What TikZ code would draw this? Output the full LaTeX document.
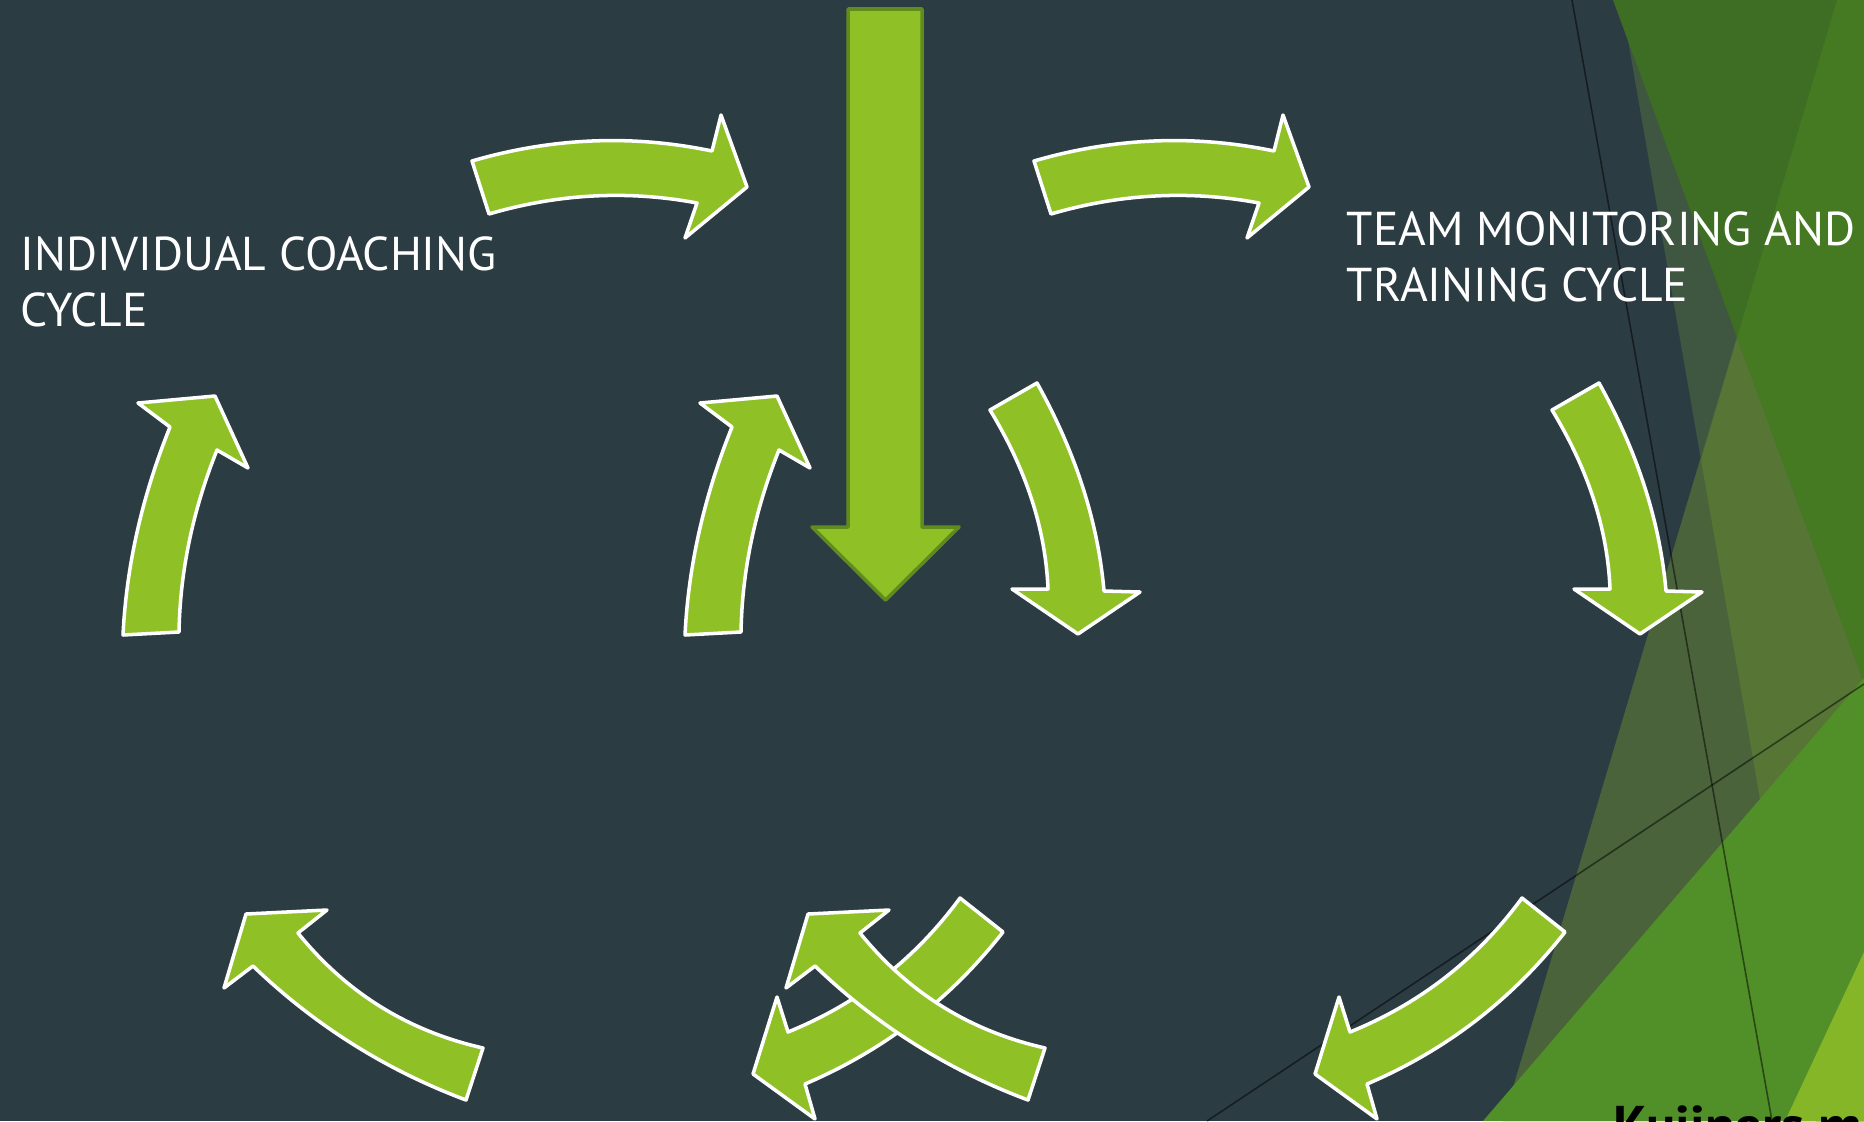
\documentclass[tikz,border=0pt]{standalone}
\usepackage{fontspec}
\setmainfont{PT Sans}
\usepackage{xcolor}
\usepackage{tikz}

\definecolor{slatebg}{RGB}{44,60,67}
\definecolor{arrowgreen}{RGB}{143,193,38}
\definecolor{dropedge}{RGB}{96,140,30}
\definecolor{facetE}{RGB}{63,86,64}
\definecolor{facetB}{RGB}{74,99,59}
\definecolor{facetBE}{RGB}{87,118,54}
\definecolor{facetA}{RGB}{62,110,36}
\definecolor{facetAB}{RGB}{69,122,34}
\definecolor{facetC}{RGB}{81,143,40}
\definecolor{facetD}{RGB}{132,182,40}

\begin{document}
\begin{tikzpicture}[x=0.01cm, y=-0.01cm,
  cyclearrow/.style={fill=arrowgreen, draw=white, line width=1pt, line join=round},
  droparrow/.style={fill=arrowgreen, draw=dropedge, line width=1pt, line join=round},
  facetline/.style={draw=black, opacity=0.5, line width=0.45pt},
  cyclelabel/.style={text=white, font=\fontsize{13.5}{15.9}\selectfont, align=left, anchor=north west, inner sep=0pt}]

\useasboundingbox (0,0) rectangle (1864,1121);
\clip (0,0) rectangle (1864,1121);

% Background
\fill[slatebg] (0,0) rectangle (1864,1121);

% Facets on the right
\fill[facetE] (1621,0) -- (1864,0) -- (1864,1121) -- (1816,1121) -- cycle;
\fill[facetB] (1837,0) -- (1864,0) -- (1864,1121) -- (1503,1121) -- cycle;
\fill[facetBE] (1837,0) -- (1864,0) -- (1864,1121) -- (1816,1121) -- (1701,460) -- cycle;
\fill[facetA] (1613,0) -- (1864,0) -- (1864,683) -- cycle;
\fill[facetAB] (1737,338) -- (1837,0) -- (1864,0) -- (1864,683) -- cycle;
\fill[facetC] (1483,1121) -- (1864,678) -- (1864,1121) -- cycle;
\fill[facetD] (1785,1121) -- (1864,952) -- (1864,1121) -- cycle;
\draw[facetline] (1572,0) -- (1772,1121);
\draw[facetline] (1207,1121) -- (1864,684);

% Arrow down the middle
\draw[droparrow] (848,9) -- (922,9) -- (922,527) -- (959,527) -- (885.5,600) -- (812,527) -- (848,527) -- cycle;

% The two cycles
\foreach \dx in {0,562} {
  \begin{scope}[shift={(\dx,0)}]
    % top
    \draw[cyclearrow] (472,161) .. controls (552,137.7) and (632,134.3) .. (712,151) -- (721,115) -- (747,187) -- (685,238) -- (697,203) .. controls (627.7,190) and (558.3,193.7) .. (489,214) -- cycle;
    % upper right
    \draw[cyclearrow] (1037,383) .. controls (1075.6,452.3) and (1097.9,521.7) .. (1104,591) -- (1140,592) -- (1078,634) -- (1012,589) -- (1048,589) .. controls (1045.6,529.3) and (1026.3,469.7) .. (990,410) -- cycle;
    % lower right
    \draw[cyclearrow] (1003,932) .. controls (950,999.6) and (884,1050.3) .. (805,1084) -- (815,1119) -- (753,1074) -- (777,997) -- (788,1032) .. controls (858,1003.6) and (915.3,958.9) .. (960,898) -- cycle;
    % lower left
    \draw[cyclearrow] (466,1100) .. controls (385.8,1070) and (314.8,1025.3) .. (253,966) -- (224,988) -- (246,914) -- (327,910) -- (298,933) .. controls (346.3,992.8) and (408,1031.1) .. (483,1048) -- cycle;
    % upper left
    \draw[cyclearrow] (179,632) .. controls (180.1,571.3) and (192.7,510.7) .. (217,450) -- (248,468) -- (215,396) -- (138,403) -- (170,427) .. controls (142.1,496.3) and (126.4,565.7) .. (123,635) -- cycle;
  \end{scope}
}

% Labels
\node[cyclelabel] (indiv) at (20,236) {INDIVIDUAL COACHING\\CYCLE};
\node[cyclelabel] (team) at (1346,211) {TEAM MONITORING AND\\TRAINING CYCLE};
\node[anchor=north west, inner sep=0pt, font=\bfseries\fontsize{15.5}{19}\selectfont] (source) at (1613,1105) {Kuijpers m};

\end{tikzpicture}
\end{document}
